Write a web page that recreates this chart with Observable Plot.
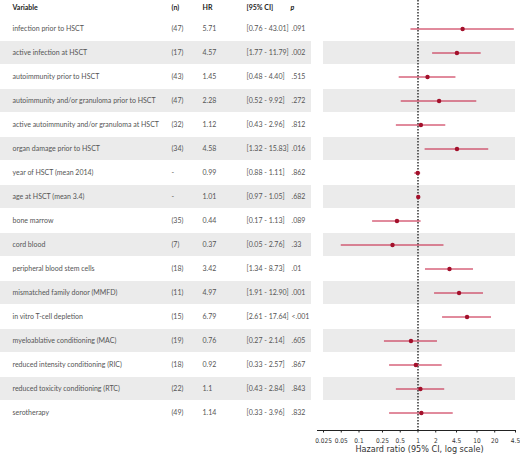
<!DOCTYPE html>
<html>
<head>
<meta charset="utf-8">
<script src="https://cdn.jsdelivr.net/npm/d3@7"></script>
<script src="https://cdn.jsdelivr.net/npm/@observablehq/plot@0.6"></script>
<style>
  body { margin: 0; background: #fff; }
  #chart { display: flex; width: 520px; height: 458px; }
  #chart svg { overflow: visible; }
</style>
</head>
<body>
<div id="chart"></div>
<script>
var variables = [
  "infection prior to HSCT",
  "active infection at HSCT",
  "autoimmunity prior to HSCT",
  "autoimmunity and/or granuloma prior to HSCT",
  "active autoimmunity and/or granuloma at HSCT",
  "organ damage prior to HSCT",
  "year of HSCT (mean 2014)",
  "age at HSCT (mean 3.4)",
  "bone marrow",
  "cord blood",
  "peripheral blood stem cells",
  "mismatched family donor (MMFD)",
  "in vitro T-cell depletion",
  "myeloablative conditioning (MAC)",
  "reduced intensity conditioning (RIC)",
  "reduced toxicity conditioning (RTC)",
  "serotherapy"
];
var counts = ["(47)", "(17)", "(43)", "(47)", "(32)", "(34)", "-", "-", "(35)", "(7)", "(18)", "(11)", "(15)", "(19)", "(18)", "(22)", "(49)"];
var hazardRatios = [5.71, 4.57, 1.45, 2.28, 1.12, 4.58, 0.99, 1.01, 0.44, 0.37, 3.42, 4.97, 6.79, 0.76, 0.92, 1.1, 1.14];
var ciLow = [0.76, 1.77, 0.48, 0.52, 0.43, 1.32, 0.88, 0.97, 0.17, 0.05, 1.34, 1.91, 2.61, 0.27, 0.33, 0.43, 0.33];
var ciHigh = [43.01, 11.79, 4.40, 9.92, 2.96, 15.83, 1.11, 1.05, 1.13, 2.76, 8.73, 12.90, 17.64, 2.14, 2.57, 2.84, 3.96];
var pValues = [".091", ".002", ".515", ".272", ".812", ".016", ".862", ".682", ".089", ".33", ".01", ".001", "<.001", ".605", ".867", ".843", ".832"];

var tickValues = [0.025, 0.05, 0.1, 0.25, 0.5, 1, 2, 4.5, 10, 20, 45];
var tickLabels = ["0.025", "0.05", "0.1", "0.25", "0.5", "1", "2", "4.5", "10", "20", "4.5"];

var rows = variables.map((v, i) => ({
  variable: v,
  n: counts[i],
  hr: hazardRatios[i],
  lo: ciLow[i],
  hi: ciHigh[i],
  ci: "[" + ciLow[i].toFixed(2) + " - " + ciHigh[i].toFixed(2) + "]",
  p: pValues[i]
}));
var shaded = rows.filter((d, i) => i % 2 === 1);
var ticks = tickValues.map((v, i) => ({value: v, label: tickLabels[i]}));

var height = 458,
    marginTop = 10,
    marginBottom = 28;
var yScale = {domain: variables, axis: null, paddingInner: 0.06, paddingOuter: 0.1};
var tableFont = "Lato, 'Noto Sans', sans-serif";
var axisFont = "'DejaVu Sans Condensed', 'Liberation Sans Narrow', sans-serif";
var textColor = "#555";

// left: the table
var table = Plot.plot({
  width: 312,
  height: height,
  marginTop: marginTop,
  marginBottom: marginBottom,
  marginLeft: 0,
  marginRight: 1,
  style: {fontFamily: tableFont, background: "white"},
  x: {domain: [0, 1], axis: null},
  y: yScale,
  marks: [
    Plot.barX(shaded, {y: "variable", x1: 0, x2: 1, fill: "#ebebeb"}),
    Plot.text(rows, {y: "variable", text: "variable", frameAnchor: "left", dx: 12, textAnchor: "start", fontSize: 7, fill: textColor}),
    Plot.text(rows, {y: "variable", text: "n", frameAnchor: "left", dx: 171, fontSize: 7, fill: textColor}),
    Plot.text(rows, {y: "variable", text: "hr", frameAnchor: "left", dx: 202, fontSize: 7, fill: textColor}),
    Plot.text(rows, {y: "variable", text: "ci", frameAnchor: "left", dx: 246, fontSize: 7, fill: textColor}),
    Plot.text(rows, {y: "variable", text: "p", frameAnchor: "left", dx: 291, fontSize: 7, fill: textColor}),
    // header
    Plot.text(["Variable"], {text: d => d, frameAnchor: "top-left", dx: 12, dy: -5, textAnchor: "start", fontSize: 7, fontWeight: "bold", fill: "#222"}),
    Plot.text(["(n)"], {text: d => d, frameAnchor: "top-left", dx: 171, dy: -5, fontSize: 7, fontWeight: "bold", fill: "#222"}),
    Plot.text(["HR"], {text: d => d, frameAnchor: "top-left", dx: 202, dy: -5, fontSize: 7, fontWeight: "bold", fill: "#222"}),
    Plot.text(["[95% CI]"], {text: d => d, frameAnchor: "top-left", dx: 246, dy: -5, fontSize: 7, fontWeight: "bold", fill: "#222"}),
    Plot.text(["p"], {text: d => d, frameAnchor: "top-left", dx: 290, dy: -5, fontSize: 7, fontWeight: "bold", fontStyle: "italic", fill: "#222"})
  ]
});

// right: the forest plot
var forest = Plot.plot({
  width: 208,
  height: height,
  marginTop: marginTop,
  marginBottom: marginBottom,
  marginLeft: 11,
  marginRight: 5,
  style: {fontFamily: axisFont, background: "white"},
  x: {type: "log", domain: [0.025, 45], axis: null},
  y: yScale,
  marks: [
    Plot.barX(shaded, {y: "variable", x1: 0.025, x2: 45, fill: "#ebebeb"}),
    Plot.frame({anchor: "bottom", stroke: "#222", insetLeft: -6}),
    Plot.axisX({ticks: tickValues, tickFormat: () => "", tickSize: 2.5, stroke: "#222", label: null}),
    Plot.text(ticks, {x: "value", text: "label", frameAnchor: "bottom", lineAnchor: "middle", dy: 10, fontSize: 6.5, fill: "#333", ariaLabel: "tick-label"}),
    Plot.ruleX([1], {stroke: "#333", strokeWidth: 1.5, strokeDasharray: "1.5,1.5", insetTop: -marginTop}),
    Plot.ruleY(rows, {y: "variable", x1: "lo", x2: "hi", stroke: "#c3163a", strokeWidth: 1}),
    Plot.dot(rows, {y: "variable", x: "hr", r: 2.2, fill: "#a3102b"}),
    Plot.text(["Hazard ratio (95% CI, log scale)"], {text: d => d, frameAnchor: "bottom", lineAnchor: "middle", dy: 19, fontSize: 9, fill: "#333", ariaLabel: "axis-title"})
  ]
});

document.getElementById("chart").append(table, forest);

// squeeze axis texts to the narrow face the original uses
d3.select(forest).selectAll("g[aria-label='tick-label'] text").each(function () {
  var w = this.getComputedTextLength();
  this.setAttribute("textLength", w * 0.7);
  this.setAttribute("lengthAdjust", "spacingAndGlyphs");
});
d3.select(forest).selectAll("g[aria-label='axis-title'] text")
  .attr("textLength", 111)
  .attr("lengthAdjust", "spacingAndGlyphs");
</script>
</body>
</html>
